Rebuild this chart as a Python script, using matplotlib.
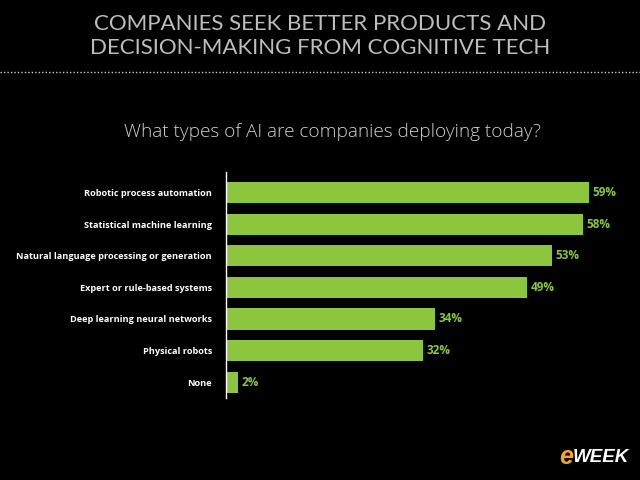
import numpy as np
import matplotlib.pyplot as plt
import matplotlib as mpl

categories = ['Robotic process automation', 'Statistical machine learning',
              'Natural language processing or generation', 'Expert or rule-based systems',
              'Deep learning neural networks', 'Physical robots', 'None']
values = [59, 58, 53, 49, 34, 32, 2]

title = 'COMPANIES SEEK BETTER PRODUCTS AND\nDECISION-MAKING FROM COGNITIVE TECH'
subtitle = 'What types of AI are companies deploying today?'

green = '#8cc63f'
W, H = 640, 480

fig = plt.figure(figsize=(6.4, 4.8), dpi=100, facecolor='black')

# axes placed in pixel terms: spine at x=226, rows from y=172 to 398
ax = fig.add_axes([226 / W, 1 - 398 / H, 369 / W, 226 / H])
ax.set_facecolor('black')

y = np.arange(len(categories))
ax.barh(y, values, height=0.67, color=green)
ax.set_xlim(0, 60)
ax.set_ylim(6.5, -0.65)

for yi, v in zip(y, values):
    ax.text(v + 0.6, yi, f'{v}%', color=green, fontsize=8.5, fontweight='bold',
            family='Open Sans', va='center', ha='left', clip_on=False)

ax.set_yticks(y)
ax.set_yticklabels(categories, color='white', fontsize=6.6, fontweight='bold', family='Open Sans')
ax.tick_params(axis='y', length=0, pad=10)
ax.set_xticks([])
for s in ['top', 'right', 'bottom']:
    ax.spines[s].set_visible(False)
ax.spines['left'].set_color('white')
ax.spines['left'].set_linewidth(1)

fig.text(0.5, 1 - 36 / H, title, color='#bdbdbd', fontsize=16, family='Lato',
         ha='center', va='center', linespacing=1.3)

# dotted separator
fig.add_artist(mpl.lines.Line2D([0, 1], [1 - 72 / H, 1 - 72 / H], color='#cccccc',
                                linestyle=(0, (1, 1.5)), linewidth=1))

fig.text(332 / W, 1 - 132 / H, subtitle, color='#d0d0d0', fontsize=13.7, family='Open Sans',
         fontweight='light', ha='center', va='center')

# logo
fig.text(573 / W, 1 - 457 / H, 'e', color='#f5a623', fontsize=18, fontweight='bold',
         style='italic', family='Liberation Sans', ha='right', va='center')
fig.text(573 / W, 1 - 457 / H, 'WEEK', color='white', fontsize=13.5, fontweight='bold',
         style='italic', family='Liberation Sans', ha='left', va='center')

fig.savefig('out.png', dpi=100, facecolor='black')
